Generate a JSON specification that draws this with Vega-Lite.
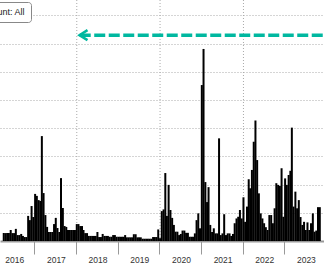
{
  "$schema": "https://vega.github.io/schema/vega-lite/v6.json",
  "width": 324,
  "height": 241,
  "autosize": {"type": "none"},
  "padding": {"left": 0, "top": 0, "right": 0, "bottom": 23},
  "background": "white",
  "config": {"view": {"stroke": null}, "font": "Liberation Sans"},
  "datasets": {
    "bars": [
      {"d":"2016-04-01","v":2.8},{"d":"2016-04-16","v":2.8},{"d":"2016-05-01","v":2.8},{"d":"2016-05-16","v":2.8},
      {"d":"2016-06-01","v":3.9},{"d":"2016-06-16","v":2.8},{"d":"2016-07-01","v":2.8},{"d":"2016-07-16","v":4.3},
      {"d":"2016-08-01","v":2.1},{"d":"2016-08-16","v":2.1},{"d":"2016-09-01","v":2.5},{"d":"2016-09-16","v":1.8},
      {"d":"2016-10-01","v":1.4},{"d":"2016-10-16","v":1.4},{"d":"2016-11-01","v":8.9},{"d":"2016-11-16","v":7.4},
      {"d":"2016-12-01","v":12.4},{"d":"2016-12-16","v":8.5},
      {"d":"2017-01-01","v":16.7},{"d":"2017-01-16","v":16.0},{"d":"2017-02-01","v":14.5},{"d":"2017-02-16","v":14.2},
      {"d":"2017-03-01","v":37.2},{"d":"2017-03-16","v":17.0},{"d":"2017-04-01","v":9.2},{"d":"2017-04-16","v":5.0},
      {"d":"2017-05-01","v":3.2},{"d":"2017-05-16","v":3.2},{"d":"2017-06-01","v":3.2},{"d":"2017-06-16","v":6.0},
      {"d":"2017-07-01","v":8.2},{"d":"2017-07-16","v":4.6},{"d":"2017-08-01","v":3.2},{"d":"2017-08-16","v":22.3},
      {"d":"2017-09-01","v":11.7},{"d":"2017-09-16","v":5.3},{"d":"2017-10-01","v":5.0},{"d":"2017-10-16","v":3.9},
      {"d":"2017-11-01","v":3.9},{"d":"2017-11-16","v":3.9},{"d":"2017-12-01","v":3.9},{"d":"2017-12-16","v":3.9},
      {"d":"2018-01-01","v":6.0},{"d":"2018-01-16","v":6.0},{"d":"2018-02-01","v":5.3},{"d":"2018-02-16","v":5.3},
      {"d":"2018-03-01","v":3.9},{"d":"2018-03-16","v":2.8},{"d":"2018-04-01","v":2.8},{"d":"2018-04-16","v":1.8},
      {"d":"2018-05-01","v":1.8},{"d":"2018-05-16","v":1.8},{"d":"2018-06-01","v":1.8},{"d":"2018-06-16","v":1.8},
      {"d":"2018-07-01","v":3.2},{"d":"2018-07-16","v":1.4},{"d":"2018-08-01","v":1.4},{"d":"2018-08-16","v":2.5},
      {"d":"2018-09-01","v":1.8},{"d":"2018-09-16","v":1.8},{"d":"2018-10-01","v":1.8},{"d":"2018-10-16","v":1.5},
      {"d":"2018-11-01","v":1.5},{"d":"2018-11-16","v":2.1},{"d":"2018-12-01","v":2.1},{"d":"2018-12-16","v":1.5},
      {"d":"2019-01-01","v":1.5},{"d":"2019-01-16","v":1.5},{"d":"2019-02-01","v":1.5},{"d":"2019-02-16","v":1.5},
      {"d":"2019-03-01","v":2.1},{"d":"2019-03-16","v":1.3},{"d":"2019-04-01","v":1.3},{"d":"2019-04-16","v":1.3},
      {"d":"2019-05-01","v":1.3},{"d":"2019-05-16","v":2.4},{"d":"2019-06-01","v":2.4},{"d":"2019-06-16","v":1.3},
      {"d":"2019-07-01","v":1.3},{"d":"2019-07-16","v":1.3},{"d":"2019-08-01","v":0.8},{"d":"2019-08-16","v":0.8},
      {"d":"2019-09-01","v":0.8},{"d":"2019-09-16","v":0.8},{"d":"2019-10-01","v":0.8},{"d":"2019-10-16","v":0.8},
      {"d":"2019-11-01","v":1.4},{"d":"2019-11-16","v":1.4},{"d":"2019-12-01","v":1.4},{"d":"2019-12-16","v":4.1},
      {"d":"2020-01-01","v":1.0},{"d":"2020-01-16","v":10.6},{"d":"2020-02-01","v":11.2},{"d":"2020-02-16","v":24.1},
      {"d":"2020-03-01","v":8.9},{"d":"2020-03-16","v":19.9},{"d":"2020-04-01","v":11.0},{"d":"2020-04-16","v":8.2},
      {"d":"2020-05-01","v":5.7},{"d":"2020-05-16","v":3.3},{"d":"2020-06-01","v":3.3},{"d":"2020-06-16","v":2.1},
      {"d":"2020-07-01","v":2.5},{"d":"2020-07-16","v":3.7},{"d":"2020-08-01","v":3.7},{"d":"2020-08-16","v":2.9},
      {"d":"2020-09-01","v":2.9},{"d":"2020-09-16","v":1.5},{"d":"2020-10-01","v":1.5},{"d":"2020-10-16","v":1.5},
      {"d":"2020-11-01","v":2.7},{"d":"2020-11-16","v":7.4},{"d":"2020-12-01","v":9.8},{"d":"2020-12-16","v":4.5},
      {"d":"2021-01-01","v":55.3},{"d":"2021-01-16","v":68.1},{"d":"2021-02-01","v":20.9},{"d":"2021-02-16","v":13.8},
      {"d":"2021-03-01","v":19.1},{"d":"2021-03-16","v":5.7},{"d":"2021-04-01","v":3.2},{"d":"2021-04-16","v":4.5},
      {"d":"2021-05-01","v":2.7},{"d":"2021-05-16","v":2.7},{"d":"2021-06-01","v":36.4},{"d":"2021-06-16","v":2.1},
      {"d":"2021-07-01","v":2.7},{"d":"2021-07-16","v":9.5},{"d":"2021-08-01","v":2.1},{"d":"2021-08-16","v":2.7},
      {"d":"2021-09-01","v":2.7},{"d":"2021-09-16","v":1.8},{"d":"2021-10-01","v":2.5},{"d":"2021-10-16","v":6.3},
      {"d":"2021-11-01","v":8.0},{"d":"2021-11-16","v":8.6},{"d":"2021-12-01","v":11.0},{"d":"2021-12-16","v":8.0},
      {"d":"2022-01-01","v":15.5},{"d":"2022-01-16","v":6.8},{"d":"2022-02-01","v":12.2},{"d":"2022-02-16","v":21.9},
      {"d":"2022-03-01","v":18.7},{"d":"2022-03-16","v":25.2},{"d":"2022-04-01","v":35.2},{"d":"2022-04-16","v":42.7},
      {"d":"2022-05-01","v":28.7},{"d":"2022-05-16","v":16.9},{"d":"2022-06-01","v":9.8},{"d":"2022-06-16","v":8.0},
      {"d":"2022-07-01","v":6.3},{"d":"2022-07-16","v":4.9},{"d":"2022-08-01","v":3.9},{"d":"2022-08-16","v":9.2},
      {"d":"2022-09-01","v":9.2},{"d":"2022-09-16","v":6.3},{"d":"2022-10-01","v":11.6},{"d":"2022-10-16","v":20.5},
      {"d":"2022-11-01","v":19.9},{"d":"2022-11-16","v":19.5},{"d":"2022-12-01","v":25.8},{"d":"2022-12-16","v":8.6},
      {"d":"2023-01-01","v":22.2},{"d":"2023-01-16","v":19.9},{"d":"2023-02-01","v":23.4},{"d":"2023-02-16","v":24.9},
      {"d":"2023-03-01","v":40.2},{"d":"2023-03-16","v":12.2},{"d":"2023-04-01","v":17.5},{"d":"2023-04-16","v":11.6},
      {"d":"2023-05-01","v":14.5},{"d":"2023-05-16","v":8.5},{"d":"2023-06-01","v":5.7},{"d":"2023-06-16","v":6.8},
      {"d":"2023-07-01","v":3.9},{"d":"2023-07-16","v":6.6},{"d":"2023-08-01","v":3.9},{"d":"2023-08-16","v":6.3},
      {"d":"2023-09-01","v":9.8},{"d":"2023-09-16","v":3.3},{"d":"2023-10-01","v":3.7},{"d":"2023-10-16","v":12.0},
      {"d":"2023-11-01","v":12.0}
    ],
    "grid": [
      {"g": "2018-01-01"}, {"g": "2020-01-01"}, {"g": "2022-01-01"}
    ],
    "arrow": [
      {"start": "2018-01-27", "head": "2018-03-01", "end": "2023-12-31", "level": 73, "lbl": "Count: All"}
    ]
  },
  "layer": [
    {
      "data": {"name": "grid"},
      "mark": {"type": "rule", "color": "#aaaaaa", "strokeWidth": 1, "strokeDash": [1, 2]},
      "encoding": {
        "x": {"field": "g", "type": "temporal"}
      }
    },
    {
      "data": {"name": "bars"},
      "mark": {"type": "bar", "color": "#000000", "width": 2},
      "encoding": {
        "x": {
          "field": "d", "type": "temporal", "title": null,
          "scale": {"type": "utc", "domain": [
            {"year": 2016, "month": 4, "date": 12, "utc": true},
            {"year": 2023, "month": 10, "date": 25, "utc": true}
          ]},
          "axis": {
            "values": [
              {"year": 2016, "month": 7, "date": 2, "utc": true},
              {"year": 2017, "month": 7, "date": 2, "utc": true},
              {"year": 2018, "month": 7, "date": 2, "utc": true},
              {"year": 2019, "month": 7, "date": 2, "utc": true},
              {"year": 2020, "month": 7, "date": 2, "utc": true},
              {"year": 2021, "month": 7, "date": 2, "utc": true},
              {"year": 2022, "month": 7, "date": 2, "utc": true},
              {"year": 2023, "month": 7, "date": 2, "utc": true}
            ],
            "tickCount": 30,
            "format": "%Y",
            "tickOffset": -21.5,
            "labelOffset": 21.5,
            "labelFlush": false,
            "labelOverlap": false,
            "tickSize": 13,
            "tickColor": "#999999",
            "domainColor": "#999999",
            "domainWidth": 2,
            "labelPadding": 1,
            "labelFontSize": 8.5,
            "labelColor": "#333333",
            "labelFont": "Liberation Sans",
            "grid": false
          }
        },
        "y": {
          "field": "v", "type": "quantitative", "title": null,
          "scale": {"domain": [0, 85.46], "nice": false},
          "axis": {
            "values": [10, 20, 30, 40, 50, 60, 70, 80],
            "tickCount": 30,
            "labels": false, "ticks": false, "domain": false,
            "grid": true, "gridDash": [1, 2], "gridColor": "#aaaaaa"
          }
        }
      }
    },
    {
      "data": {"name": "arrow"},
      "mark": {"type": "rule", "strokeDash": [11, 3.5], "strokeWidth": 3.5},
      "encoding": {
        "x": {"field": "start", "type": "temporal"},
        "x2": {"field": "end"},
        "y": {"field": "level", "type": "quantitative"},
        "color": {
          "field": "lbl", "type": "nominal",
          "scale": {"range": ["#00b8a0"]},
          "legend": {
            "orient": "none", "legendX": -28, "legendY": 2,
            "title": null, "symbolSize": 0, "symbolStrokeWidth": 0, "labelOffset": 0,
            "padding": 5, "strokeColor": "#888888", "cornerRadius": 3, "fillColor": "white",
            "labelFontSize": 9, "labelColor": "#222222", "labelFont": "Liberation Sans"
          }
        }
      }
    },
    {
      "data": {"name": "arrow"},
      "mark": {"type": "point", "shape": "M0.8,-1L-0.8,0L0.8,1", "filled": false, "color": "#00b8a0", "strokeWidth": 2.5, "size": 100, "opacity": 1},
      "encoding": {
        "x": {"field": "head", "type": "temporal"},
        "y": {"field": "level", "type": "quantitative"}
      }
    }
  ]
}
